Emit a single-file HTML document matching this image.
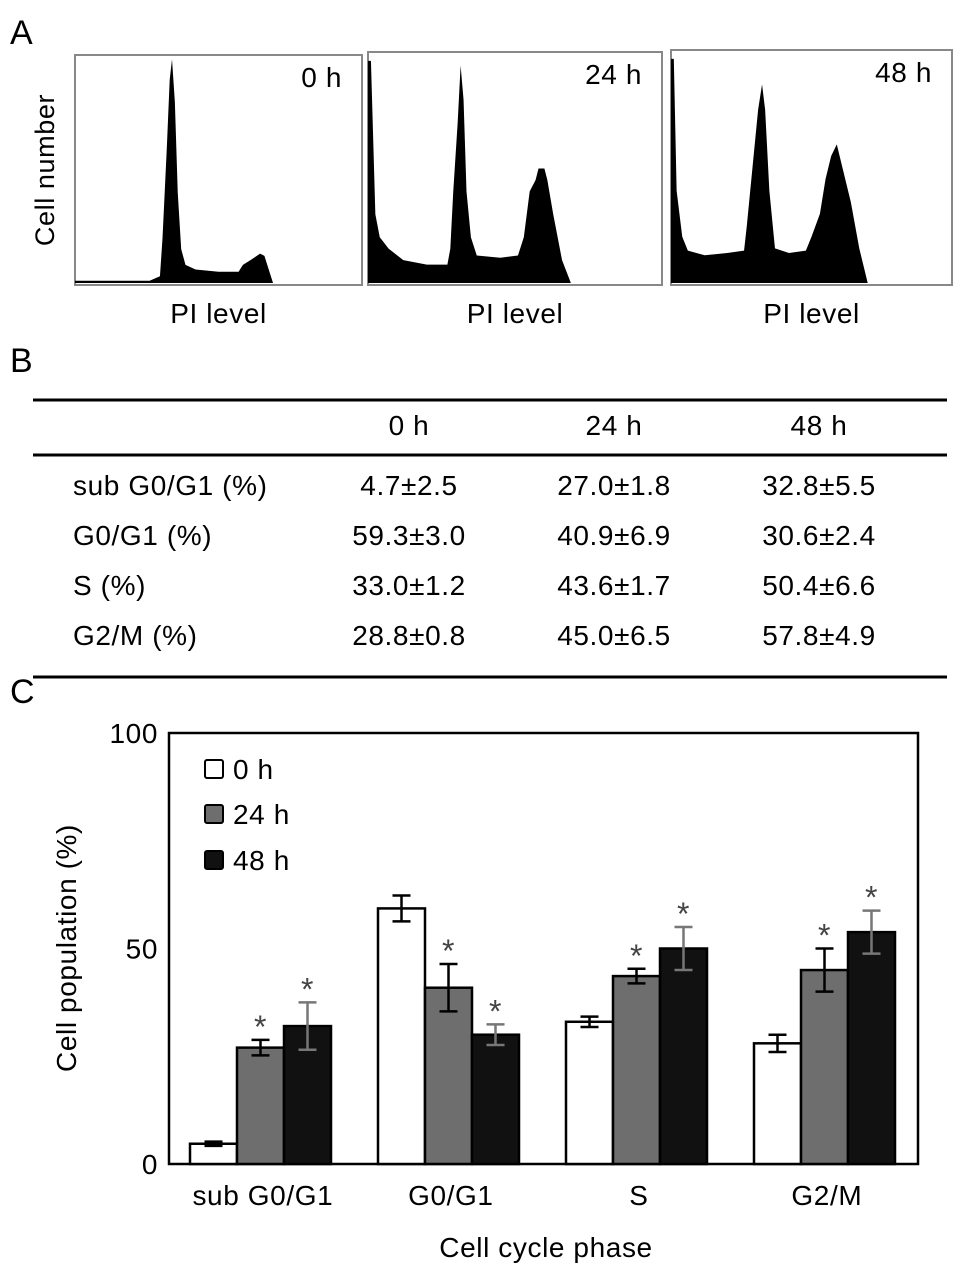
<!DOCTYPE html>
<html><head><meta charset="utf-8"><style>
body{margin:0;background:#fff}
svg{display:block;font-family:"Liberation Sans",sans-serif}
svg text{letter-spacing:0.6px}
</style></head><body>
<svg width="969" height="1276" viewBox="0 0 969 1276">
<g id="A">
<text x="10" y="44" font-size="34">A</text>
<text transform="translate(54,170) rotate(-90)" text-anchor="middle" font-size="27">Cell number</text>
</g>
<g id="B">
<text x="10" y="372" font-size="34">B</text>
<line x1="33" y1="400" x2="947" y2="400" stroke="#000" stroke-width="3"/>
<line x1="33" y1="455" x2="947" y2="455" stroke="#000" stroke-width="3"/>
<line x1="33" y1="677" x2="947" y2="677" stroke="#000" stroke-width="3"/>
<g font-size="28" text-anchor="middle">
<text x="409" y="435">0 h</text><text x="614" y="435">24 h</text><text x="819" y="435">48 h</text>
<text x="409" y="495">4.7±2.5</text><text x="614" y="495">27.0±1.8</text><text x="819" y="495">32.8±5.5</text>
<text x="409" y="545">59.3±3.0</text><text x="614" y="545">40.9±6.9</text><text x="819" y="545">30.6±2.4</text>
<text x="409" y="595">33.0±1.2</text><text x="614" y="595">43.6±1.7</text><text x="819" y="595">50.4±6.6</text>
<text x="409" y="645">28.8±0.8</text><text x="614" y="645">45.0±6.5</text><text x="819" y="645">57.8±4.9</text>
</g>
<g font-size="28">
<text x="73" y="495">sub G0/G1 (%)</text><text x="73" y="545">G0/G1 (%)</text><text x="73" y="595">S (%)</text><text x="73" y="645">G2/M (%)</text>
</g>
</g>
<g id="C">
<text x="10" y="703" font-size="34">C</text>
<rect x="169" y="733" width="749" height="431" fill="none" stroke="#000" stroke-width="2.5"/>
<text transform="translate(76,948) rotate(-90)" text-anchor="middle" font-size="28">Cell population (%)</text>
<text x="546" y="1257" text-anchor="middle" font-size="28">Cell cycle phase</text>
<g font-size="28">
<rect x="205" y="760" width="18" height="18" fill="#fff" stroke="#000" stroke-width="2" rx="2"/><text x="233" y="779">0 h</text>
<rect x="205" y="805" width="18" height="18" fill="#6e6e6e" stroke="#000" stroke-width="2" rx="2"/><text x="233" y="824">24 h</text>
<rect x="205" y="851" width="18" height="18" fill="#111" stroke="#000" stroke-width="2" rx="2"/><text x="233" y="870">48 h</text>
</g>
<g id="bars"></g>
</g>
<g id="hists"></g>
</svg>
<script>
const NS="http://www.w3.org/2000/svg";
// ---- Bar chart data ----
const categories=["sub G0/G1","G0/G1","S","G2/M"];
const series=["0 h","24 h","48 h"];
const vals0h=[4.7,59.3,33.0,28.0];
const vals24h=[27.0,40.9,43.6,45.0];
const vals48h=[32.0,30.0,50.0,53.8];
const err0h=[0.5,3.0,1.2,2.0];
const err24h=[1.8,5.5,1.7,5.0];
const err48h=[5.5,2.4,5.0,5.0];
const sig24h=[true,true,true,true];
const sig48h=[true,true,true,true];
const yTicks=[0,50,100];
// ---- Histogram data: [channel, count] ----
const hist0=[[0,1],[24,1],[26,1],[29.6,3],[30.5,20],[32,60],[33,90],[33.8,99],[34.8,80],[35.8,40],[37,15],[38.5,8],[42,6],[50,5],[57,5],[58.5,8],[61,10],[64.5,13],[66,12],[67.5,6],[69,0]];
const hist24=[[0,97],[1,97],[2.5,30],[4,20],[7,15],[12,10],[20,8],[27,8],[28,15],[29,40],[30.5,70],[31.5,95],[32.5,80],[33.5,40],[35,20],[37,12],[45,11],[51,12],[53,20],[55,40],[57,45],[58,50],[60,50],[61,45],[63,30],[66,10],[69,0]];
const hist48=[[0,97],[1,97],[2,40],[4,20],[6,14],[12,12],[20,13],[26,14],[27,25],[29,50],[31,75],[32.4,86],[33.5,75],[35,40],[37,15],[42,13],[48,14],[50,20],[53,30],[55,45],[57,55],[59,60],[61,50],[64,35],[67,15],[70,0]];
const histLabels=["0 h","24 h","48 h"];

const y0=1164,yTop=733;
const yScale=v=>y0-(v/100)*(y0-yTop);
const groupX=i=>190+i*188;
const barW=47;
const bars=document.getElementById('bars');
function mk(tag,attrs,parent){const e=document.createElementNS(NS,tag);for(const k in attrs)e.setAttribute(k,attrs[k]);parent.appendChild(e);return e;}
yTicks.forEach(t=>{
  const tx=mk('text',{x:158,y:yScale(t)+10,'text-anchor':'end','font-size':28},bars);
  tx.textContent=t;
  
  
});
const allVals=[vals0h,vals24h,vals48h],allErr=[err0h,err24h,err48h],fills=["#fff","#6e6e6e","#111"],sigs=[null,sig24h,sig48h];
categories.forEach((c,i)=>{
  const lab=mk('text',{x:groupX(i)+barW*1.55,y:1205,'text-anchor':'middle','font-size':28},bars);
  lab.textContent=c;
  
  
  allVals.forEach((arr,s)=>{
    const x=groupX(i)+s*barW,v=arr[i],yt=yScale(v);
    const r=mk('rect',{x:x,y:yt,width:barW,height:y0-yt,fill:fills[s],stroke:'#000','stroke-width':2.5},bars);
    
    
    const e=allErr[s][i],cx=x+barW/2,ya=yScale(v+e),yb=yScale(v-e);
    const eb=mk('path',{d:`M${cx},${ya}V${yb}M${cx-9},${ya}H${cx+9}M${cx-9},${yb}H${cx+9}`,stroke:s==2?'#777':'#000','stroke-width':2.5,fill:'none'},bars);
    
    
    if(sigs[s]&&sigs[s][i]){
      const a=mk('text',{x:cx,y:ya-2,'text-anchor':'middle','font-size':32,fill:'#444'},bars);
      a.textContent='*';
      
      
    }
  });
});
// histograms
const boxes=[[75,55,287,230],[368,52,294,233],[671,50,281,235]];
const hdata=[hist0,hist24,hist48];
const hg=document.getElementById('hists');
hdata.forEach((h,k)=>{
  const [bx,by,bw,bh]=boxes[k];
  const fr=mk('rect',{x:bx,y:by,width:bw,height:bh,fill:'none',stroke:'#888','stroke-width':2},hg);
  
  
  const base=by+bh-2;
  const sx=ch=>bx+ch*bw/100, sy=c=>base-c*(bh-4)/100;
  let d=`M${sx(h[0][0])},${base}`;
  h.forEach(p=>d+=`L${sx(p[0])},${sy(p[1])}`);
  d+=`L${sx(h[h.length-1][0])},${base}Z`;
  const pth=mk('path',{d:d,fill:'#000'},hg);
  
  
  const t=mk('text',{x:bx+bw-20,y:by+32,'text-anchor':'end','font-size':28},hg);
  t.textContent=histLabels[k];
  
  
  const pl=mk('text',{x:bx+bw/2,y:323,'text-anchor':'middle','font-size':28},hg);
  pl.textContent='PI level';
  
  
});
</script>
</body></html>
